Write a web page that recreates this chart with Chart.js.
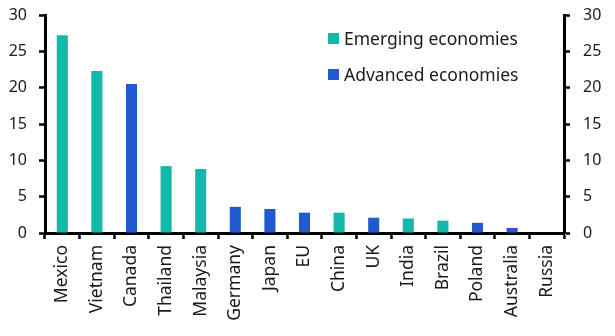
<!DOCTYPE html>
<html lang="en">
<head>
    <meta charset="UTF-8">
    <title>Emerging vs advanced economies</title>
    <script src="https://cdn.jsdelivr.net/npm/chart.js"></script>
    <style>
        html, body { margin: 0; background: #fff; overflow: hidden; }
        .wrap { position: relative; width: 615px; height: 336px; }
        canvas { display: block; }
        .legend { position: absolute; left: 328px; top: 20px; font-family: "Noto Sans", sans-serif; font-size: 17.5px; color: #1a1a1a; }
        .legend div { display: flex; align-items: center; height: 36px; }
        .legend span.box { display: inline-block; width: 11px; height: 11px; margin-right: 5px; }
    </style>
</head>
<body>
<div class="wrap">
    <canvas id="chart" width="615" height="336"></canvas>
    <div class="legend">
        <div><span class="box" style="background:#12b8a9"></span>Emerging economies</div>
        <div><span class="box" style="background:#2159cf"></span>Advanced economies</div>
    </div>
</div>
<script>
// data
const countries = ['Mexico', 'Vietnam', 'Canada', 'Thailand', 'Malaysia', 'Germany', 'Japan', 'EU',
                   'China', 'UK', 'India', 'Brazil', 'Poland', 'Australia', 'Russia'];
const emerging = [27.2, 22.3, null, 9.2, 8.8, null, null, null, 2.8, null, 2.0, 1.7, null, null, 0];
const advanced = [null, null, 20.5, null, null, 3.6, 3.3, 2.8, null, 2.1, null, null, 1.4, 0.7, null];
const yTicks = [0, 5, 10, 15, 20, 25, 30];

const tickFont = { family: 'Noto Sans', size: 16 };

// no automatic padding, fixed sizes so the plot area lands where the original has it
const noPad = s => { s.paddingLeft = s.paddingRight = s.paddingTop = s.paddingBottom = 0; };

const yAxis = (pos) => ({
    position: pos,
    min: 0,
    max: 30,
    afterBuildTicks: s => { s.ticks = yTicks.map(v => ({ value: v })); },
    afterFit: s => { s.width = pos === 'left' ? 45 : 51; noPad(s); },
    grid: { drawOnChartArea: false, tickLength: 6, tickColor: '#000', tickWidth: 2.5 },
    border: { color: '#000', width: 3 },
    ticks: { color: '#1a1a1a', font: tickFont, padding: pos === 'left' ? 12 : 13 }
});

new Chart(document.getElementById('chart'), {
    type: 'bar',
    data: {
        labels: countries,
        datasets: [
            { label: 'Emerging economies', data: emerging, backgroundColor: '#12b8a9', yAxisID: 'y' },
            { label: 'Advanced economies', data: advanced, backgroundColor: '#2159cf', yAxisID: 'y' }
        ]
    },
    options: {
        responsive: false,
        animation: false,
        layout: { padding: { top: 15, left: 0, right: 0, bottom: 0 } },
        datasets: { bar: { barPercentage: 0.32, categoryPercentage: 1 } },
        scales: {
            x: {
                stacked: true,
                afterFit: s => { s.height = 103; noPad(s); },
                grid: { drawOnChartArea: false, tickLength: 6, tickColor: '#000', tickWidth: 2.5, offset: true },
                border: { color: '#000', width: 3 },
                ticks: { color: '#1a1a1a', font: { family: 'Noto Sans', size: 17.5 }, minRotation: 90, maxRotation: 90, autoSkip: false, padding: 6 }
            },
            y: yAxis('left'),
            y2: yAxis('right')
        },
        plugins: { legend: { display: false }, tooltip: { enabled: false } }
    }
});
</script>
</body>
</html>
